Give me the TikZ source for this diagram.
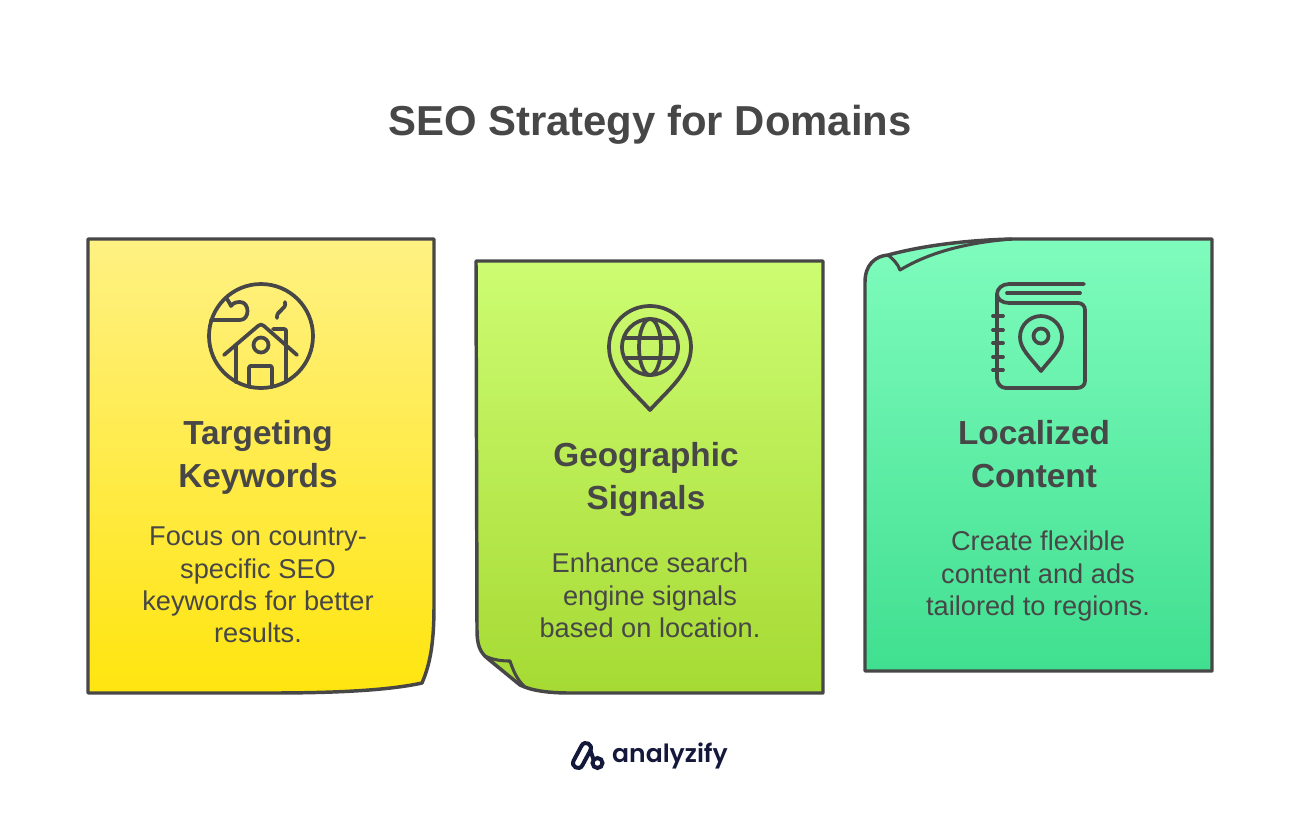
\documentclass[tikz,border=0pt]{standalone}
\usepackage{fontspec}
\setmainfont{Liberation Sans}
\newfontfamily\logofont[UprightFont=* SemiBold]{Poppins}
\definecolor{ink}{HTML}{474747}
\definecolor{navy}{HTML}{14183A}
\definecolor{yt}{HTML}{FFF183}
\definecolor{yb}{HTML}{FFE50F}
\definecolor{gt}{HTML}{CDFC72}
\definecolor{gb}{HTML}{A6DA33}
\definecolor{tt}{HTML}{7FFCBD}
\definecolor{tb}{HTML}{40DF90}
\tikzset{
  x=0.75pt,y=-0.75pt,
  card/.style={draw=ink,line width=2.6pt,line join=round},
  icon/.style={draw=ink,line width=2.8pt,line cap=round,line join=round},
  fold/.style={draw=ink,line width=2.3pt,line join=round},
  titletext/.style={text=ink,font=\bfseries\fontsize{31.4}{38}\selectfont,inner sep=0pt},
  headtext/.style={text=ink,font=\bfseries\fontsize{25}{32.25}\selectfont,align=center,inner sep=0pt},
  bodytext/.style={text=ink,font=\fontsize{20.4}{24.2}\selectfont,align=center,inner sep=0pt},
}
\begin{document}
\begin{tikzpicture}
\useasboundingbox (0,0) rectangle (1300,822);
\fill[white] (0,0) rectangle (1300,822);
\node[titletext] (title) at (650,125) {SEO Strategy for Domains};

% card 1
\path[card,top color=yt,bottom color=yb] (88,239) -- (434,239) -- (434,605)
  .. controls (434,640) and (431,662) .. (422,683)
  .. controls (390,690) and (340,693) .. (270,693) -- (88,693) -- cycle;
% card 2
\path[card,top color=gt,bottom color=gb] (476,261) -- (823,261) -- (823,693) -- (570,693)
  .. controls (550,693) and (532,691) .. (520,685)
  -- (487,658)
  .. controls (480,652) and (477,645) .. (477,630) -- cycle;
\draw[fold] (485,656) .. controls (493,660) and (502,661) .. (510,661)
  .. controls (513,670) and (517,680) .. (525,687);
% card 3
\path[card,top color=tt,bottom color=tb] (865,671) -- (1212,671) -- (1212,239) -- (1012,239)
  .. controls (970,240) and (925,245) .. (888,255)
  .. controls (875,256) and (865,265) .. (865,282) -- cycle;
\draw[fold] (888,255) .. controls (893,259) and (898,264) .. (900,270)
  .. controls (925,255) and (960,243) .. (1012,239);

% icon 1: house
\draw[icon] (261,336) circle[radius=52];
\draw[icon] (211,320) -- (240,320) .. controls (250,320) and (250,302) .. (240,302)
  .. controls (236,302) and (233,303) .. (231,306) .. controls (230,303) and (228,301) .. (227,299);
\draw[icon] (285,302) .. controls (287,310) and (276,310) .. (277,318);
\draw[icon] (224,355) -- (258,326) .. controls (260,324) and (262,324) .. (264,326) -- (297,355);
\draw[icon] (236,345) -- (236,382);
\draw[icon] (273,329) -- (284,329) .. controls (286,329) and (286,330) .. (286,331) -- (286,382);
\draw[icon] (261,345) circle[radius=7.5];
\draw[icon] (249,387) -- (249,368) .. controls (249,366) and (250,366) .. (251,366) -- (270,366) .. controls (271,366) and (272,366) .. (272,368) -- (272,387);

% icon 2: pin with globe
\draw[icon] (650,410) .. controls (630,388) and (609,372) .. (609,347)
  .. controls (609,323) and (628,306) .. (650,306)
  .. controls (672,306) and (691,323) .. (691,347)
  .. controls (691,372) and (670,388) .. (650,410) -- cycle;
\draw[icon] (650,347) circle[radius=28];
\draw[icon] (650,347) ellipse[x radius=11,y radius=28];
\draw[icon] (625,338) -- (675,338);
\draw[icon] (625,358) -- (675,358);

% icon 3: book
\draw[icon] (1084,284) -- (1009,284) .. controls (1002,284) and (997,289) .. (997,294) -- (997,378)
  .. controls (997,384) and (1001,388) .. (1006,388) -- (1077,388)
  .. controls (1082,388) and (1085,385) .. (1085,381) -- (1085,310)
  .. controls (1085,306) and (1082,303) .. (1078,303) -- (1009,303)
  .. controls (1002,303) and (997,299) .. (997,294);
\draw[icon] (1007,293) -- (1080,293);
\foreach \yy in {316,330,343,357,370} \draw[icon] (993,\yy) -- (1003,\yy);
\draw[icon] (1041,371) .. controls (1030,357) and (1020,349) .. (1020,337)
  .. controls (1020,325) and (1030,316) .. (1041,316)
  .. controls (1052,316) and (1062,325) .. (1062,337)
  .. controls (1062,349) and (1052,357) .. (1041,371) -- cycle;
\draw[icon] (1041,336) circle[radius=7.5];

% texts
\node[headtext] (h1) at (258,457.5) {Targeting\\Keywords};
\node[bodytext] (b1) at (258,585) {Focus on country-\\specific SEO\\keywords for better\\results.};
\node[headtext] (h2) at (646,479.5) {Geographic\\Signals};
\node[bodytext] (b2) at (650,595.5) {Enhance search\\engine signals\\based on location.};
\node[headtext] (h3) at (1034,454.5) {Localized\\Content};
\node[bodytext] (b3) at (1038,576) {Create flexible\\content and ads\\tailored to regions.};

% logo
\draw[navy,line width=3pt,line join=round] (590.4,750.35)
  .. controls (593.5,744.5) and (584.7,739.8) .. (581.6,745.65)
  -- (573.6,760.7)
  .. controls (570.5,766.6) and (579.3,771.2) .. (582.4,765.3) -- cycle;
\draw[navy,line width=3pt,line cap=round] (590.4,750.35) -- (593.5,759.5);
\draw[navy,line width=3pt] (597.5,763) circle[radius=5];
\node[text=navy,font=\logofont\fontsize{18.8}{24}\selectfont,inner sep=0pt] (logo) at (670,756) {analyzify};
\end{tikzpicture}
\end{document}
